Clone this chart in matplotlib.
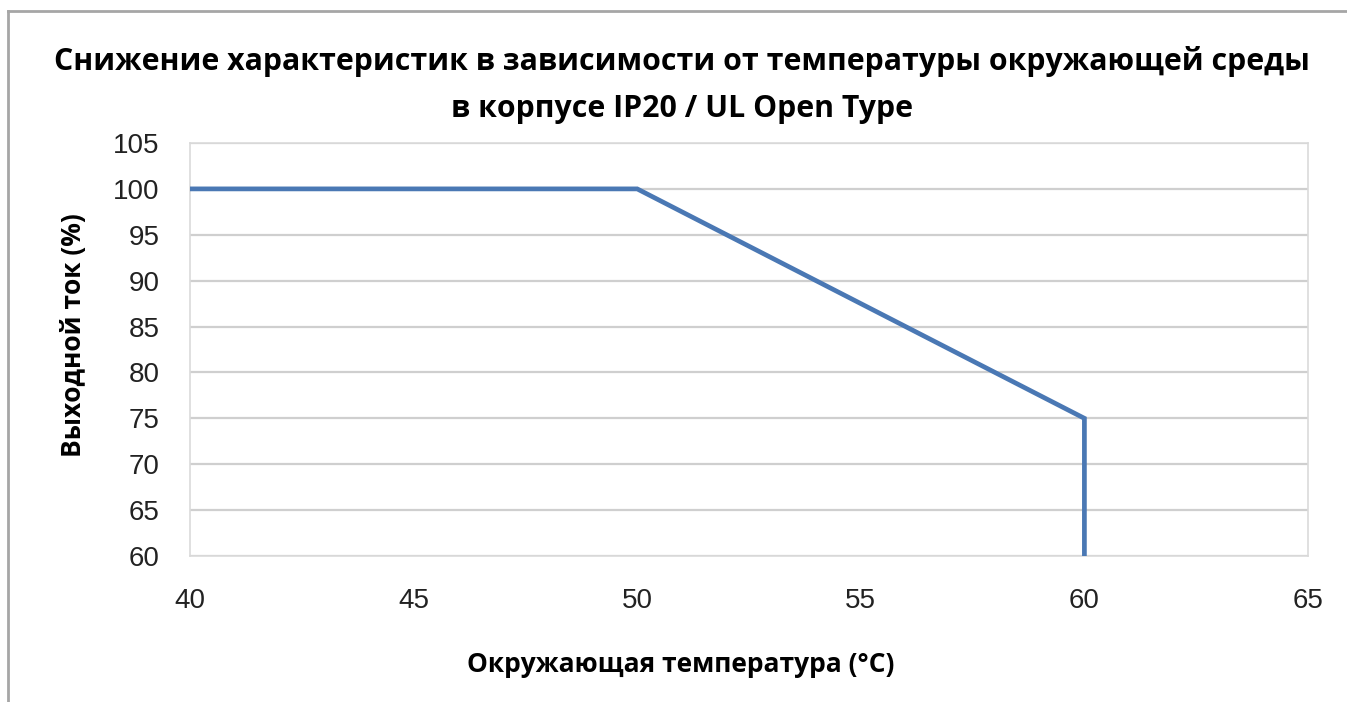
import matplotlib
matplotlib.use("Agg")
import matplotlib.pyplot as plt
from matplotlib.lines import Line2D

# Derating curve: output current vs ambient temperature
temperature = [40, 50, 60, 60]
output_current = [100, 100, 75, 60]
x_ticks = [40, 45, 50, 55, 60, 65]
y_ticks = [60, 65, 70, 75, 80, 85, 90, 95, 100, 105]

title = "Снижение характеристик в зависимости от температуры окружающей среды\nв корпусе IP20 / UL Open Type"
x_label = "Окружающая температура (°C)"
y_label = "Выходной ток (%)"

W, H = 1347, 702
fig = plt.figure(figsize=(W / 100, H / 100), dpi=100)
fig.patch.set_facecolor("white")

left, right, top, bottom = 190, 1308, 143, 556
ax = fig.add_axes([left / W, 1 - bottom / H, (right - left) / W, (bottom - top) / H])

ax.plot(temperature, output_current, color="#4a78b4", linewidth=3.4, solid_joinstyle="miter", zorder=3)

ax.set_xlim(40, 65)
ax.set_ylim(60, 105)
ax.set_xticks(x_ticks)
ax.set_yticks(y_ticks)
ax.set_xticklabels([str(v) for v in x_ticks], fontfamily="Liberation Sans", fontsize=20, color="#222222")
ax.set_yticklabels([str(v) for v in y_ticks], fontfamily="Liberation Sans", fontsize=20, color="#222222")
ax.tick_params(axis="both", length=0)
ax.tick_params(axis="x", pad=23)
ax.tick_params(axis="y", pad=22)

ax.yaxis.grid(True, color="#cfcfcf", linewidth=1.6)
ax.set_axisbelow(True)
for s in ax.spines.values():
    s.set_color("#dadada")
    s.set_linewidth(1.2)

fig.text(682 / W, 1 - 85 / H, title, ha="center", va="center", fontsize=21.8,
         fontweight="bold", fontfamily="Open Sans", linespacing=1.72)
fig.text(681 / W, 1 - 664 / H, x_label, ha="center", va="center",
         fontsize=19, fontweight="bold", fontfamily="Open Sans")
fig.text(73 / W, 1 - 335 / H, y_label, ha="center", va="center", rotation=90,
         fontsize=19, fontweight="bold", fontfamily="Open Sans")

# outer frame (top and left edges)
fig.add_artist(Line2D([8 / W, 1.0], [1 - 11 / H, 1 - 11 / H], color="#a6a6a6", linewidth=2,
                      transform=fig.transFigure))
fig.add_artist(Line2D([8 / W, 8 / W], [1 - 11 / H, 0.0], color="#a6a6a6", linewidth=2,
                      transform=fig.transFigure))

fig.savefig("out.png", dpi=100)
